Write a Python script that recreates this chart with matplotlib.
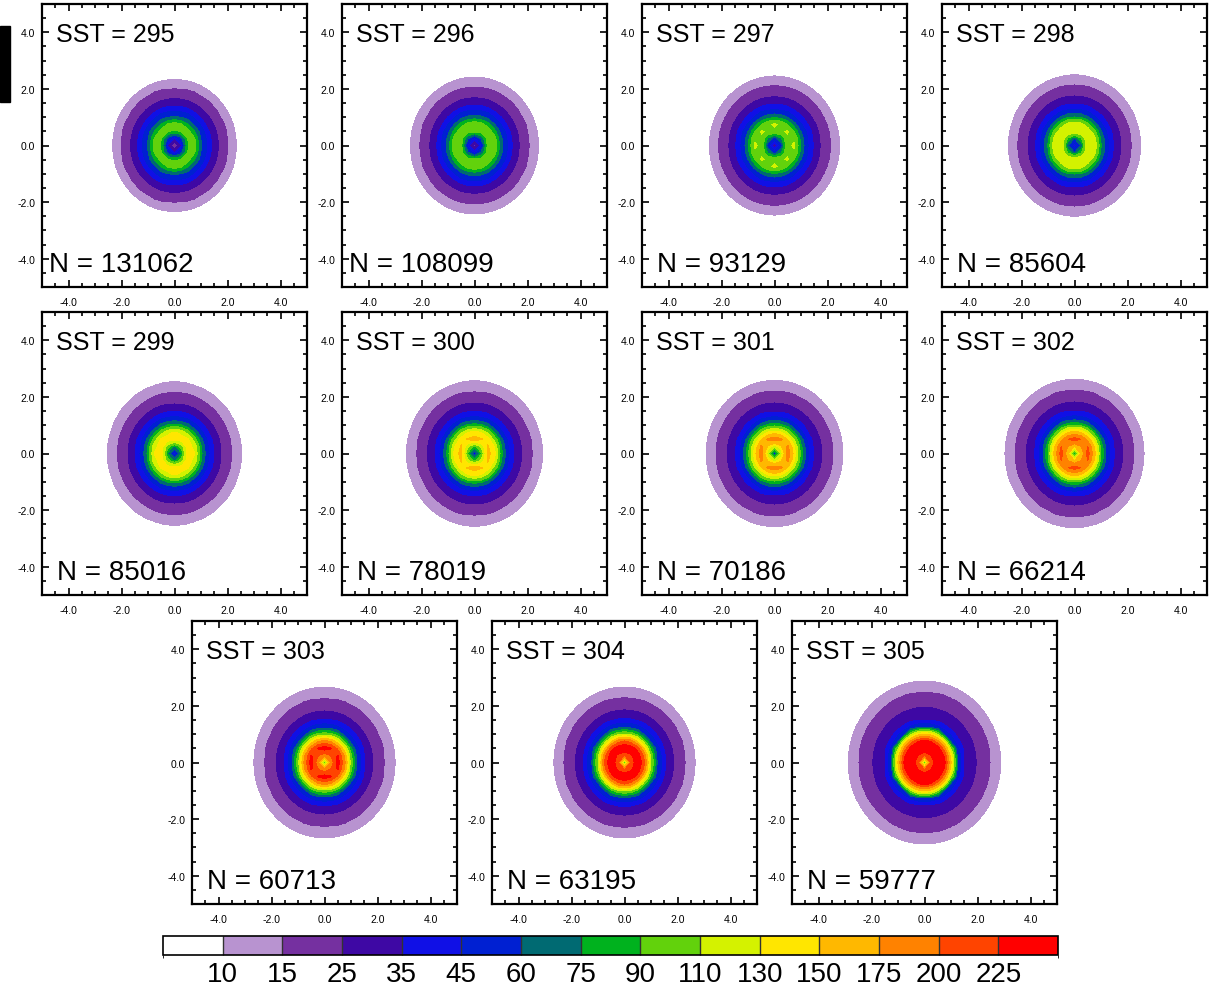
import numpy as np
import matplotlib
matplotlib.use("Agg")
import matplotlib.pyplot as plt
import matplotlib as mpl
from matplotlib.colors import ListedColormap, BoundaryNorm
from matplotlib.ticker import MultipleLocator, FormatStrFormatter

plt.rcParams['font.family'] = ['Liberation Sans', 'DejaVu Sans']

#########################
##       data          ##
#########################

sst = [295, 296, 297, 298, 299, 300, 301, 302, 303, 304, 305]
counts = [131062, 108099, 93129, 85604, 85016, 78019, 70186, 66214, 60713, 63195, 59777]

# composite rain rate against distance from the storm centre (degrees)
r_knots = [0.0, 0.25, 0.5, 0.75, 1.0, 1.25, 1.5, 1.75, 2.0, 2.25, 2.5, 2.75, 3.0, 3.5]

prof_295 = [18, 32, 88, 98, 62, 42, 30, 22, 15.0, 11.0, 8.0, 5.0, 3.0, 1.0]
prof_296 = [20, 38, 95, 104, 66, 44, 31, 23, 16.0, 12.0, 9.0, 6.0, 3.5, 1.0]
prof_297 = [28, 50, 106, 113, 72, 46, 33, 24, 17.0, 12.5, 9.5, 6.0, 3.5, 1.0]
prof_298 = [35, 60, 128, 126, 76, 47, 33, 25, 17.5, 13.0, 10.0, 6.5, 4.0, 1.0]
prof_299 = [40, 70, 142, 132, 80, 48, 34, 25, 18.0, 13.0, 10.5, 7.0, 4.0, 1.0]
prof_300 = [45, 85, 158, 138, 82, 48, 34, 26, 18.5, 13.5, 11.0, 7.5, 4.5, 1.5]
prof_301 = [50, 115, 192, 140, 84, 48, 33, 26, 19.0, 14.0, 11.0, 8.0, 5.0, 1.5]
prof_302 = [75, 150, 212, 160, 90, 50, 35, 27, 20.0, 14.5, 11.5, 8.5, 5.0, 1.5]
prof_303 = [90, 180, 240, 185, 100, 53, 36, 27, 20.0, 15.0, 12.0, 9.0, 5.5, 2.0]
prof_304 = [95, 200, 252, 205, 108, 56, 37, 28, 21.0, 15.5, 12.0, 9.0, 6.0, 2.0]
prof_305 = [85, 200, 258, 236, 152, 56, 34, 29, 24.0, 19.0, 14.5, 11.5, 8.5, 4.0]

profiles = [prof_295, prof_296, prof_297, prof_298, prof_299, prof_300,
            prof_301, prof_302, prof_303, prof_304, prof_305]

levels = [10, 15, 25, 35, 45, 60, 75, 90, 110, 130, 150, 175, 200, 225]

colors = ['#ffffff', '#b893d0', '#7530a0', '#3e08a4', '#1010e6', '#0020d2',
          '#006a72', '#00b21e', '#62d20c', '#d4f200', '#ffe600', '#ffb800',
          '#ff8200', '#ff4400', '#ff0000']

#########################
##     figure          ##
#########################

W, H = 1220., 987.
fig = plt.figure(figsize=(W / 100, H / 100), dpi=100)

# panel corners in pixels (left, top)
pos = [(42, 5), (342, 5), (642, 5), (942, 5),
       (42, 313), (342, 313), (642, 313), (942, 313),
       (192, 622), (492, 622), (792, 622)]
pw, ph = 265, 283

bounds = [-1] + levels + [1000]
cmap = ListedColormap(colors)
norm = BoundaryNorm(bounds, cmap.N)

g = np.arange(-5, 5.001, 0.25)
X, Y = np.meshgrid(g, g)
R = np.hypot(X, Y)

for k in range(len(sst)):
    px, py = pos[k]
    ax = fig.add_axes([px / W, 1 - (py + ph) / H, pw / W, ph / H])
    Z = np.interp(R, r_knots, profiles[k])
    ax.contourf(X, Y, Z, levels=bounds, cmap=cmap, norm=norm)

    ax.set_xlim(-5, 5)
    ax.set_ylim(-5, 5)
    for s in ax.spines.values():
        s.set_linewidth(1.6)
    ax.xaxis.set_minor_locator(MultipleLocator(0.5))
    ax.yaxis.set_minor_locator(MultipleLocator(0.5))
    ax.set_xticks([-4, -2, 0, 2, 4])
    ax.set_yticks([-4, -2, 0, 2, 4])
    ax.xaxis.set_major_formatter(FormatStrFormatter('%.1f'))
    ax.yaxis.set_major_formatter(FormatStrFormatter('%.1f'))
    ax.tick_params(which='both', direction='in', top=True, right=True, width=1.2)
    ax.tick_params(which='major', length=5, labelsize=7.5)
    ax.tick_params(which='minor', length=2.6)
    ax.tick_params(axis='x', pad=7)
    ax.tick_params(axis='y', pad=5)

    ax.text(-2.23, 3.7, 'SST = %d' % sst[k], fontsize=18, ha='center', va='baseline')
    ax.text(-2.0, -4.45, 'N = %d' % counts[k], fontsize=20, ha='center', va='baseline')

# label bar
cax = fig.add_axes([163 / W, 1 - 956 / H, 895 / W, 19 / H])
cb = mpl.colorbar.ColorbarBase(cax, cmap=cmap, norm=norm, orientation='horizontal',
                               spacing='uniform', drawedges=True, ticks=levels)
cb.outline.set_linewidth(1.2)
cb.dividers.set_linewidth(1.0)
cb.dividers.set_color('#333333')
cax.tick_params(length=0, labelsize=20, pad=4)
cax.set_xticklabels([str(v) for v in levels])

# black mark on the left edge
fig.patches.append(plt.Rectangle((0, 1 - 103 / H), 10 / W, 76 / H,
                                 transform=fig.transFigure, color='black'))

plt.savefig('out.png', dpi=100)
